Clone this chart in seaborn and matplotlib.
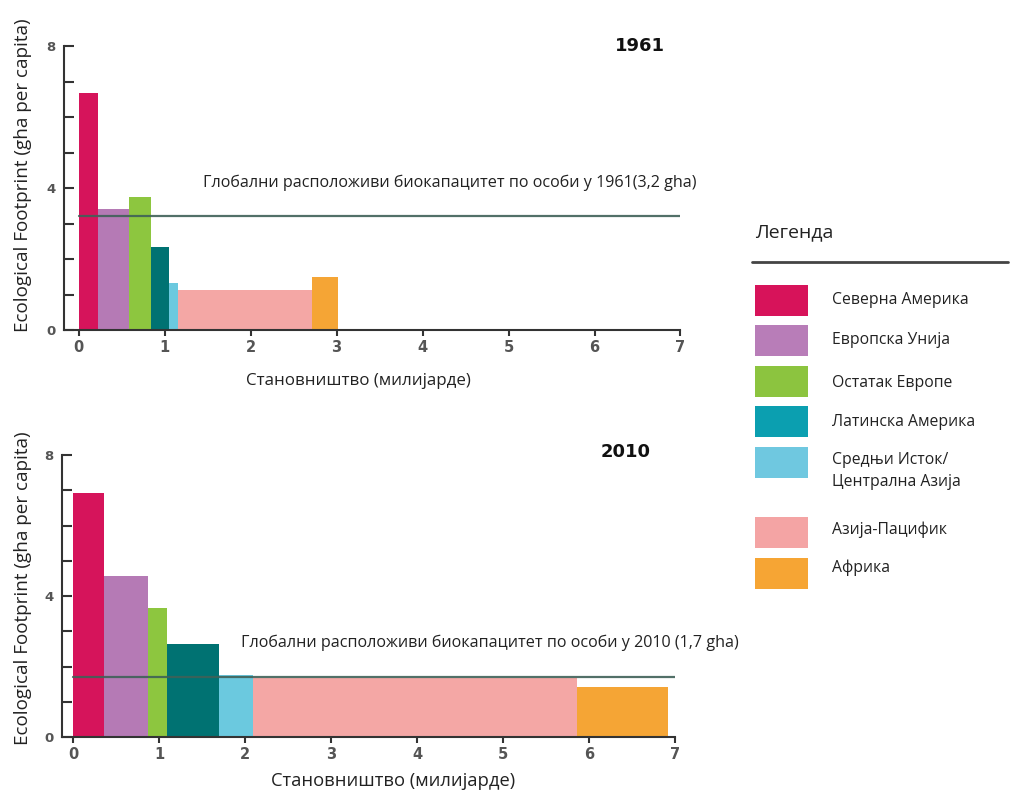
import numpy as np
import pandas as pd
import matplotlib
matplotlib.use("Agg")
import matplotlib.pyplot as plt
import seaborn as sns
from matplotlib.patches import Rectangle

# ---------------- data ----------------
regions = ["Северна Америка", "Европска Унија", "Остатак Европе",
           "Латинска Америка", "Средњи Исток/\nЦентрална Азија",
           "Азија-Пацифик", "Африка"]
bar_colors = ["#d6145b", "#b57ab5", "#8dc63f", "#007272",
              "#6bc9df", "#f4a7a5", "#f5a535"]
legend_colors = ["#d7135a", "#b87db8", "#8cc43f", "#0b9fb0",
                 "#6fc8e0", "#f4a4a4", "#f6a534"]

# population (billions) = bar widths, footprint (gha per capita) = bar heights
pop_1961 = [0.23, 0.36, 0.25, 0.21, 0.11, 1.55, 0.31]
fp_1961 = [6.68, 3.41, 3.75, 2.34, 1.32, 1.13, 1.49]
pop_2010 = [0.36, 0.51, 0.22, 0.61, 0.39, 3.77, 1.06]
fp_2010 = [6.92, 4.57, 3.66, 2.65, 1.77, 1.67, 1.41]

biocap_1961 = 3.2
biocap_2010 = 1.7
years = ["1961", "2010"]
notes = ["Глобални расположиви биокапацитет по особи у 1961(3,2 gha)",
         "Глобални расположиви биокапацитет по особи у 2010 (1,7 gha)"]
xticks = [0, 1, 2, 3, 4, 5, 6, 7]
yticks = [0, 1, 2, 3, 4, 5, 6, 7, 8]
ytick_labels = ["0", "", "", "", "4", "", "", "", "8"]
xlabel = "Становништво (милијарде)"
ylabel = "Ecological Footprint (gha per capita)"
legend_title = "Легенда"

# ---------------- style ----------------
sns.set_theme(style="ticks")
plt.rcParams["font.family"] = ["DejaVu Sans"]
TXT = ["Open Sans", "DejaVu Sans"]

W, H = 1010, 794
fig = plt.figure(figsize=(W / 100, H / 100), dpi=100)


def px_axes(x0, x1, y_top, y_bot):
    return fig.add_axes([x0 / W, 1 - y_bot / H, (x1 - x0) / W, (y_bot - y_top) / H])


panels = [
    dict(rect=(64, 680.5, 46, 330), xmin=-0.169, pop=pop_1961, fp=fp_1961,
         bio=biocap_1961, year=years[0], note=notes[0], note_xy=(1.45, 4.14),
         year_xy=(0.935, 1.0), xl=(0.477, -0.153), xfs=12.2,
         yl=(-0.052, 0.546)),
    dict(rect=(62, 675, 455, 737), xmin=-0.128, pop=pop_2010, fp=fp_2010,
         bio=biocap_2010, year=years[1], note=notes[1], note_xy=(1.95, 2.68),
         year_xy=(0.92, 1.01), xl=(0.54, -0.125), xfs=13.2,
         yl=(-0.049, 0.528)),
]

for p in panels:
    ax = px_axes(p["rect"][0], p["rect"][1], p["rect"][2], p["rect"][3])
    widths = np.array(p["pop"])
    lefts = np.concatenate([[0], np.cumsum(widths)[:-1]])
    ax.bar(lefts, p["fp"], width=widths, align="edge", color=bar_colors,
           linewidth=0, zorder=1)
    line_df = pd.DataFrame({"x": [0, 7], "y": [p["bio"], p["bio"]]})
    sns.lineplot(data=line_df, x="x", y="y", color="#3f6158", lw=1.6,
                 alpha=0.9, ax=ax, zorder=3)

    ax.set_xlim(p["xmin"], 7.0)
    ax.set_ylim(0, 8)
    ax.set_xticks(xticks)
    ax.set_xticklabels([str(t) for t in xticks])
    ax.set_yticks(yticks)
    ax.set_yticklabels(ytick_labels)
    for s in ["top", "right"]:
        ax.spines[s].set_visible(False)
    for s in ["left", "bottom"]:
        ax.spines[s].set_color("#333333")
        ax.spines[s].set_linewidth(1.5)
    ax.tick_params(axis="y", direction="in", length=7.5, width=1.5,
                   color="#333333", labelsize=9.5, labelcolor="#555555", pad=6)
    ax.tick_params(axis="x", direction="out", length=4, width=1.5,
                   color="#333333", labelsize=10.5, labelcolor="#555555", pad=3)
    for lab in ax.get_xticklabels() + ax.get_yticklabels():
        lab.set_fontweight("bold")

    ax.set_xlabel(xlabel, fontsize=p["xfs"], family=TXT, color="#222222")
    ax.xaxis.set_label_coords(*p["xl"])
    ax.set_ylabel(ylabel, fontsize=13.6, family=TXT, color="#222222")
    ax.yaxis.set_label_coords(*p["yl"])

    ax.text(p["note_xy"][0], p["note_xy"][1], p["note"], fontsize=11.6,
            family=TXT, color="#222222", va="center", ha="left", zorder=4)
    ax.text(p["year_xy"][0], p["year_xy"][1], p["year"], transform=ax.transAxes,
            fontsize=13, fontweight="bold", color="#111111",
            ha="center", va="center")

# ---------------- legend ----------------
lg = fig.add_axes([0, 0, 1, 1], zorder=-1)
lg.set_xlim(0, W)
lg.set_ylim(H, 0)
lg.axis("off")
lg.text(755, 232, legend_title, fontsize=14, family=TXT, color="#222222",
        va="center", ha="left")
lg.plot([752, 1008], [262, 262], color="#444444", lw=2)
centers = [300, 340, 381, 421, 462, 532, 573]
text_y = [300, 340, 383, 422, 471, 530, 568]
for c, ty, col, name in zip(centers, text_y, legend_colors, regions):
    lg.add_patch(Rectangle((755, c - 15.5), 53, 31, facecolor=col,
                           edgecolor="none"))
    lg.text(832, ty, name, fontsize=11.3, family=TXT, color="#222222",
            va="center", ha="left", linespacing=1.55)

fig.savefig("out.png", dpi=100)
